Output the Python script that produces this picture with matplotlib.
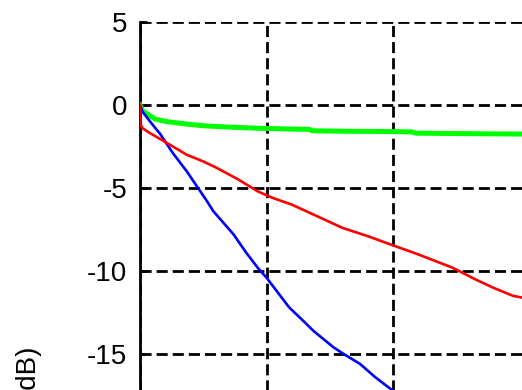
import matplotlib
matplotlib.use("Agg")
import matplotlib.pyplot as plt

plt.rcParams['font.family'] = ['Liberation Sans', 'DejaVu Sans']
plt.rcParams['axes.unicode_minus'] = False

# values (x in grid units, y in dB)
blue_x = [0, 0.02, 0.08, 0.16, 0.26, 0.37, 0.45, 0.53, 0.58, 0.66, 0.74, 0.84, 0.93,
          1.0, 1.08, 1.18, 1.29, 1.37, 1.45, 1.53, 1.61, 1.74, 1.86, 1.98, 2.1]
blue_y = [0, -0.4, -1.0, -1.75, -2.9, -4.0, -4.9, -5.8, -6.4, -7.1, -7.8, -8.9, -9.8,
          -10.4, -11.2, -12.2, -13.0, -13.6, -14.1, -14.6, -15.0, -15.6, -16.4, -17.1, -17.8]

red_x = [0, 0, 0.02, 0.08, 0.16, 0.26, 0.37, 0.5, 0.61, 0.78, 0.93, 1.05, 1.2, 1.4,
         1.6, 1.8, 1.98, 2.2, 2.47, 2.65, 2.79, 2.95, 3.02]
red_y = [0, -1.1, -1.4, -1.7, -2.05, -2.5, -3.0, -3.4, -3.8, -4.5, -5.2, -5.6, -6.0, -6.7,
         -7.4, -7.9, -8.4, -9.0, -9.8, -10.5, -11.0, -11.5, -11.6]

green_x = [0, 0.02, 0.06, 0.12, 0.21, 0.37, 0.5, 0.7, 0.93, 1.2, 1.34, 1.36, 1.6, 1.98,
           2.15, 2.18, 2.22, 2.5, 2.8, 3.02]
green_y = [0, -0.35, -0.55, -0.85, -1.0, -1.15, -1.25, -1.33, -1.4, -1.45, -1.47, -1.55,
           -1.58, -1.6, -1.62, -1.7, -1.7, -1.72, -1.74, -1.75]

y_ticks = [5, 0, -5, -10, -15]
x_ticks = [0, 1, 2]
y_label = "Magnitude (dB)"

fig = plt.figure(figsize=(5.22, 3.9), dpi=100)
ax = fig.add_axes([140 / 522, -47 / 390, 506 / 522, 415 / 390])

ax.plot(green_x, green_y, color='#00ff00', lw=3.6, zorder=3)
ax.plot(blue_x, blue_y, color='#0000ff', lw=1.9, zorder=4)
ax.plot(red_x, red_y, color='#ff0000', lw=1.9, zorder=5)

ax.set_xlim(0, 4)
ax.set_ylim(-20, 5)
ax.set_yticks(y_ticks)
ax.set_xticks(x_ticks)
ax.set_xticklabels([])

ax.grid(True, color='black', linestyle=(0, (4, 1.8)), linewidth=2.0)
ax.set_axisbelow(True)

for side in ['top', 'right', 'bottom']:
    ax.spines[side].set_visible(False)
ax.spines['left'].set_linewidth(2.0)

ax.tick_params(axis='y', direction='in', length=5, width=2.0, labelsize=20, pad=9)
ax.tick_params(axis='x', direction='in', length=0)

fig.text(29 / 522, 1 - 346 / 390, y_label, rotation=90, ha='center', va='top',
         fontsize=20)

fig.savefig("out.png", dpi=100)
